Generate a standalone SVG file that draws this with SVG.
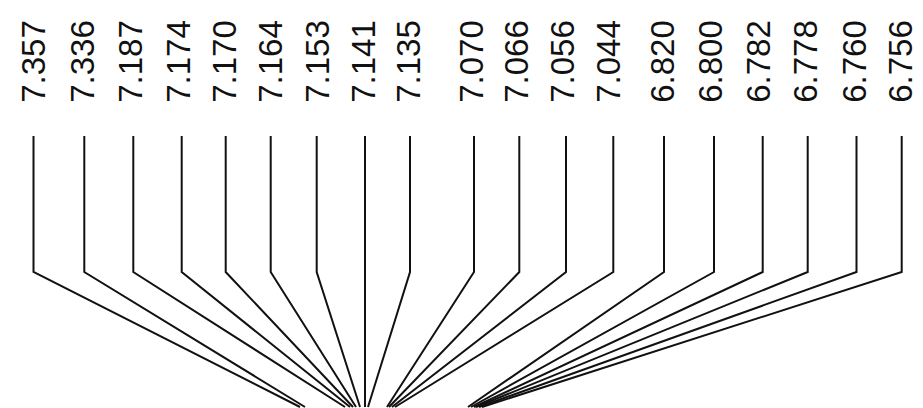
<svg xmlns="http://www.w3.org/2000/svg" width="923" height="408" viewBox="0 0 923 408">
<style>
.lbl{font-family:"Liberation Sans",Arial,sans-serif;font-size:33px;fill:#111;text-anchor:middle}
.ln{fill:none;stroke:#111;stroke-width:2;stroke-linejoin:miter}
</style>
<rect width="923" height="408" fill="#fff"/>
<g id="labels">
<g id="n1"><text class="lbl" transform="translate(45,61.5) rotate(-90)">7.357</text></g>
<g id="n2"><text class="lbl" transform="translate(93.5,61.5) rotate(-90)">7.336</text></g>
<g id="n3"><text class="lbl" transform="translate(141.8,61.5) rotate(-90)">7.187</text></g>
<g id="n4"><text class="lbl" transform="translate(189.8,61.5) rotate(-90)">7.174</text></g>
<g id="n5"><text class="lbl" transform="translate(235.8,61.5) rotate(-90)">7.170</text></g>
<g id="n6"><text class="lbl" transform="translate(281.8,61.5) rotate(-90)">7.164</text></g>
<g id="n7"><text class="lbl" transform="translate(328.5,61.5) rotate(-90)">7.153</text></g>
<g id="n8"><text class="lbl" transform="translate(374.8,61.5) rotate(-90)">7.141</text></g>
<g id="n9"><text class="lbl" transform="translate(419.8,61.5) rotate(-90)">7.135</text></g>
<g id="n10"><text class="lbl" transform="translate(482.8,61.5) rotate(-90)">7.070</text></g>
<g id="n11"><text class="lbl" transform="translate(527.8,61.5) rotate(-90)">7.066</text></g>
<g id="n12"><text class="lbl" transform="translate(574.3,61.5) rotate(-90)">7.056</text></g>
<g id="n13"><text class="lbl" transform="translate(619.8,61.5) rotate(-90)">7.044</text></g>
<g id="n14"><text class="lbl" transform="translate(673.5,61.5) rotate(-90)">6.820</text></g>
<g id="n15"><text class="lbl" transform="translate(721.8,61.5) rotate(-90)">6.800</text></g>
<g id="n16"><text class="lbl" transform="translate(769.8,61.5) rotate(-90)">6.782</text></g>
<g id="n17"><text class="lbl" transform="translate(816.8,61.5) rotate(-90)">6.778</text></g>
<g id="n18"><text class="lbl" transform="translate(865.8,61.5) rotate(-90)">6.760</text></g>
<g id="n19"><text class="lbl" transform="translate(911.8,61.5) rotate(-90)">6.756</text></g>
</g>
<g id="connectors">
<polyline class="ln" points="33.5,136 33.5,272 300,407"/>
<polyline class="ln" points="84.3,136 84.3,272 305,407"/>
<polyline class="ln" points="133.3,136 133.3,272 345,407"/>
<polyline class="ln" points="181.7,136 181.7,272 350,407"/>
<polyline class="ln" points="225.7,136 225.7,272 353,407"/>
<polyline class="ln" points="270.7,136 270.7,272 356,407"/>
<polyline class="ln" points="316.7,136 316.7,272 360,407"/>
<polyline class="ln" points="365,136 365,272 365,407"/>
<polyline class="ln" points="410,136 410,272 368,407"/>
<polyline class="ln" points="474,136 474,272 387,407"/>
<polyline class="ln" points="519.3,136 519.3,272 389,407"/>
<polyline class="ln" points="566,136 566,272 392,407"/>
<polyline class="ln" points="613.3,136 613.3,272 395,407"/>
<polyline class="ln" points="664,136 664,272 468,407"/>
<polyline class="ln" points="714,136 714,272 471,407"/>
<polyline class="ln" points="762.7,136 762.7,272 474,407"/>
<polyline class="ln" points="807.7,136 807.7,272 476,407"/>
<polyline class="ln" points="856.5,136 856.5,272 479,407"/>
<polyline class="ln" points="901.7,136 901.7,272 482,407"/>
</g>
</svg>
